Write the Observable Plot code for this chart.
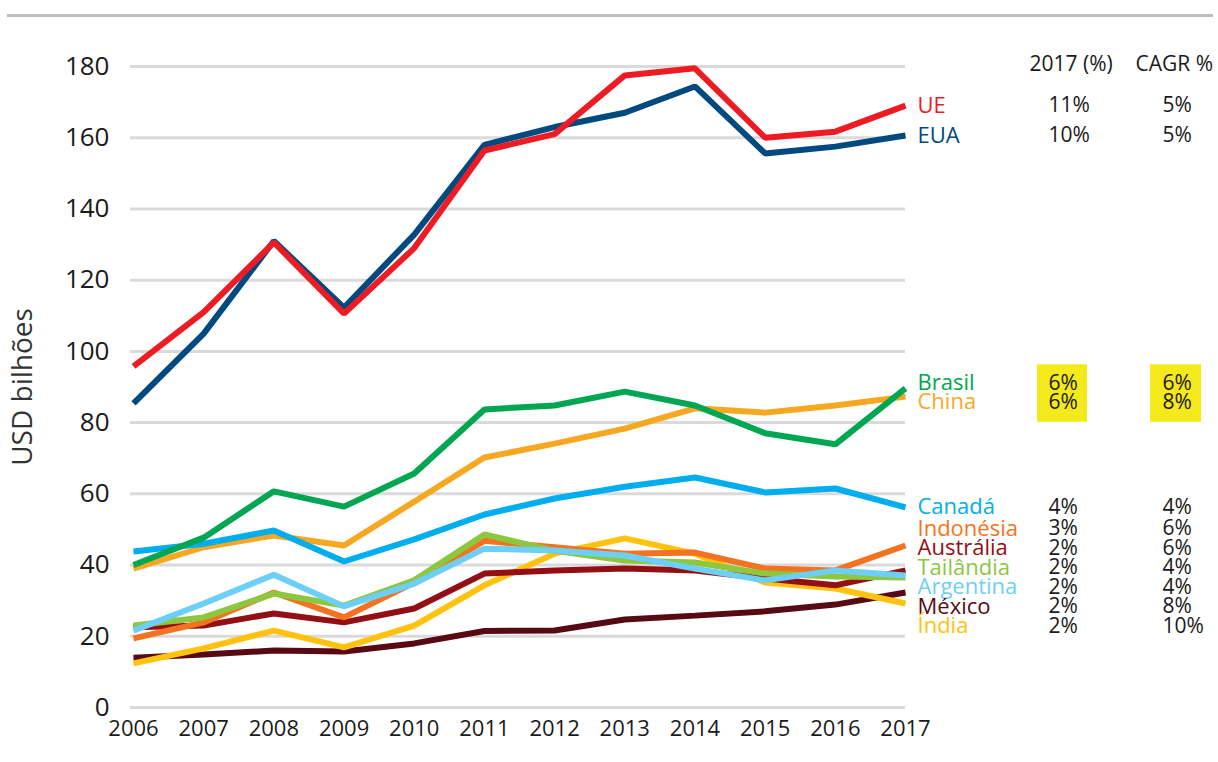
<!DOCTYPE html>
<html>
<head>
<meta charset="utf-8">
<script src="https://cdn.jsdelivr.net/npm/d3@7"></script>
<script src="https://cdn.jsdelivr.net/npm/@observablehq/plot@0.6"></script>
<style>
  html, body { margin: 0; padding: 0; background: #fff; }
  svg { display: block; }
</style>
</head>
<body>
<div id="chart"></div>
<script>
// ---------- data ----------
const years = [2006, 2007, 2008, 2009, 2010, 2011, 2012, 2013, 2014, 2015, 2016, 2017];
const countries = ["UE", "EUA", "Brasil", "China", "Canadá", "Indonésia", "Austrália", "Tailândia", "Argentina", "México", "Índia"];

const ue        = [95.8, 111.0, 130.6, 110.6, 129.0, 156.4, 161.0, 177.5, 179.5, 160.0, 161.7, 169.0];
const eua       = [85.4, 105.0, 131.0, 112.3, 132.8, 158.0, 163.0, 167.0, 174.4, 155.6, 157.5, 160.6];
const brasil    = [40.0, 47.7, 60.7, 56.4, 65.7, 83.7, 84.8, 88.7, 84.8, 77.0, 73.9, 89.6];
const china     = [39.0, 45.0, 48.3, 45.5, 57.8, 70.2, 74.1, 78.3, 84.0, 82.8, 84.8, 87.3];
const canada    = [43.8, 46.0, 49.7, 41.0, 47.2, 54.2, 58.7, 62.0, 64.6, 60.4, 61.5, 56.2];
const indonesia = [19.4, 23.9, 32.3, 25.3, 35.1, 46.8, 45.0, 43.2, 43.5, 39.0, 38.5, 45.5];
const australia = [22.5, 23.0, 26.4, 23.9, 27.8, 37.6, 38.5, 39.0, 38.5, 36.2, 34.3, 38.5];
const tailandia = [23.0, 25.3, 32.0, 28.6, 35.7, 48.6, 44.0, 41.3, 40.7, 37.6, 36.8, 36.5];
const argentina = [21.6, 29.2, 37.3, 28.4, 34.8, 44.6, 44.1, 42.7, 39.0, 35.7, 38.5, 37.1];
const mexico    = [14.0, 14.9, 16.0, 15.7, 18.0, 21.5, 21.6, 24.7, 25.8, 27.0, 28.9, 32.3];
const india     = [12.4, 16.6, 21.6, 16.9, 23.0, 34.3, 43.2, 47.5, 43.2, 35.1, 33.4, 29.2];

const share2017 = ["11%", "10%", "6%", "6%", "4%", "3%", "2%", "2%", "2%", "2%", "2%"];
const cagr      = ["5%", "5%", "6%", "8%", "4%", "6%", "6%", "4%", "4%", "8%", "10%"];
const highlighted = ["Brasil", "China"];
const tableHeaders = ["2017 (%)", "CAGR %"];
const yTicks = [0, 20, 40, 60, 80, 100, 120, 140, 160, 180];
const yTitle = "USD bilhões";

// ---------- styles ----------
const palette = {
  "UE": "#ed1c24", "EUA": "#004a80", "Brasil": "#00a651", "China": "#f7a823",
  "Canadá": "#00aeef", "Indonésia": "#f47321", "Austrália": "#940f14",
  "Tailândia": "#8dc63f", "Argentina": "#6dcff6", "México": "#580a14", "Índia": "#ffc20e"
};
const drawOrder = ["México", "Índia", "Austrália", "Indonésia", "Tailândia", "Argentina", "China", "Canadá", "Brasil", "EUA", "UE"];

const W = 1218, H = 762, mL = 133, mR = 313, mT = 66, mB = 55;
const FONT = "'Open Sans', 'Noto Sans', sans-serif";

const series = {
  "UE": ue, "EUA": eua, "Brasil": brasil, "China": china, "Canadá": canada,
  "Indonésia": indonesia, "Austrália": australia, "Tailândia": tailandia,
  "Argentina": argentina, "México": mexico, "Índia": india
};

const rows = drawOrder.flatMap(c => years.map((y, i) => ({country: c, year: y, value: series[c][i]})));
const lastYear = years[years.length - 1];

// label dodge in pixel space
const yS = Plot.scale({y: {domain: [0, 180], range: [H - mB, mT]}});
const targets = countries.map(c => yS.apply(series[c][series[c].length - 1]));
function dodge(t, gap) {
  const cl = [];
  t.forEach((v, i) => {
    let c = {idx: [i], start: v};
    while (cl.length) {
      const p = cl[cl.length - 1];
      if (p.start + p.idx.length * gap > c.start) {
        cl.pop();
        const idx = p.idx.concat(c.idx);
        const start = d3.mean(idx.map((j, k) => t[j] - k * gap));
        c = {idx, start};
      } else break;
    }
    cl.push(c);
  });
  const pos = [];
  cl.forEach(c => c.idx.forEach((j, k) => pos[j] = c.start + k * gap));
  return pos;
}
const labelPos = dodge(targets, 19.5);
const labels = countries.map((c, i) => ({
  country: c, py: labelPos[i], ly: yS.invert(labelPos[i]), share: share2017[i], cagr: cagr[i]
}));

const plot = Plot.plot({
  width: W, height: H,
  marginLeft: mL, marginRight: mR, marginTop: mT, marginBottom: mB,
  style: {fontFamily: FONT, background: "#fff", color: "#111"},
  x: {domain: [years[0], lastYear], ticks: years, tickFormat: d => String(d)},
  y: {domain: [0, 180], ticks: yTicks},
  color: {type: "identity"},
  marks: [
    Plot.ruleY(yTicks, {stroke: "#dadada", strokeWidth: 3, insetLeft: -3}),
    Plot.axisY({ticks: yTicks, tickSize: 0, tickPadding: 24, fontSize: 26, label: null, fill: "#1a1a1a"}),
    Plot.axisX({ticks: years, tickSize: 0, tickPadding: 13, fontSize: 22, label: null, fill: "#1a1a1a", tickFormat: d => String(d)}),
    Plot.line(rows, {
      x: "year", y: "value", z: "country", stroke: d => palette[d.country],
      strokeWidth: 6, strokeLinejoin: "miter", strokeLinecap: "butt"
    }),
    Plot.text([yTitle], {frameAnchor: "left", textAnchor: "middle", lineAnchor: "middle", rotate: -90, dx: -110, fontSize: 28, fill: "#333", text: d => d}),
    Plot.text(labels, {x: lastYear, y: "ly", text: "country", dx: 12, textAnchor: "start", lineAnchor: "middle", fill: d => palette[d.country], fontSize: 22}),
    Plot.text([tableHeaders[0]], {frameAnchor: "top", lineAnchor: "middle", x: lastYear, dx: 124, dy: -2, textAnchor: "start", fontSize: 21, fill: "#1a1a1a", text: d => d}),
    Plot.text([tableHeaders[1]], {frameAnchor: "top", lineAnchor: "middle", x: lastYear, dx: 230, dy: -2, textAnchor: "start", fontSize: 21, fill: "#1a1a1a", text: d => d}),
    Plot.text(labels, {x: lastYear, y: "ly", text: "share", dx: 143, textAnchor: "start", lineAnchor: "middle", fontSize: 21, fill: "#1a1a1a"}),
    Plot.text(labels, {x: lastYear, y: "ly", text: "cagr", dx: 257, textAnchor: "start", lineAnchor: "middle", fontSize: 21, fill: "#1a1a1a"})
  ]
});

document.getElementById("chart").appendChild(plot);

// decorations: top rule and highlight boxes behind the highlighted rows
const svgSel = d3.select(plot);
const xEnd = plot.scale("x").apply(lastYear);
const hl = labels.filter(d => highlighted.includes(d.country));
const boxTop = d3.min(hl, d => d.py) - 18, boxBottom = d3.max(hl, d => d.py) + 20;
[[132, 182], [245, 296]].forEach(([a, b]) => {
  svgSel.insert("rect", ":first-child")
    .attr("x", xEnd + a).attr("width", b - a)
    .attr("y", boxTop).attr("height", boxBottom - boxTop)
    .attr("fill", "#f4e91b");
});
svgSel.append("line")
  .attr("x1", 7).attr("x2", W - 5).attr("y1", 15.5).attr("y2", 15.5)
  .attr("stroke", "#bdbdbd").attr("stroke-width", 3);
</script>
</body>
</html>
